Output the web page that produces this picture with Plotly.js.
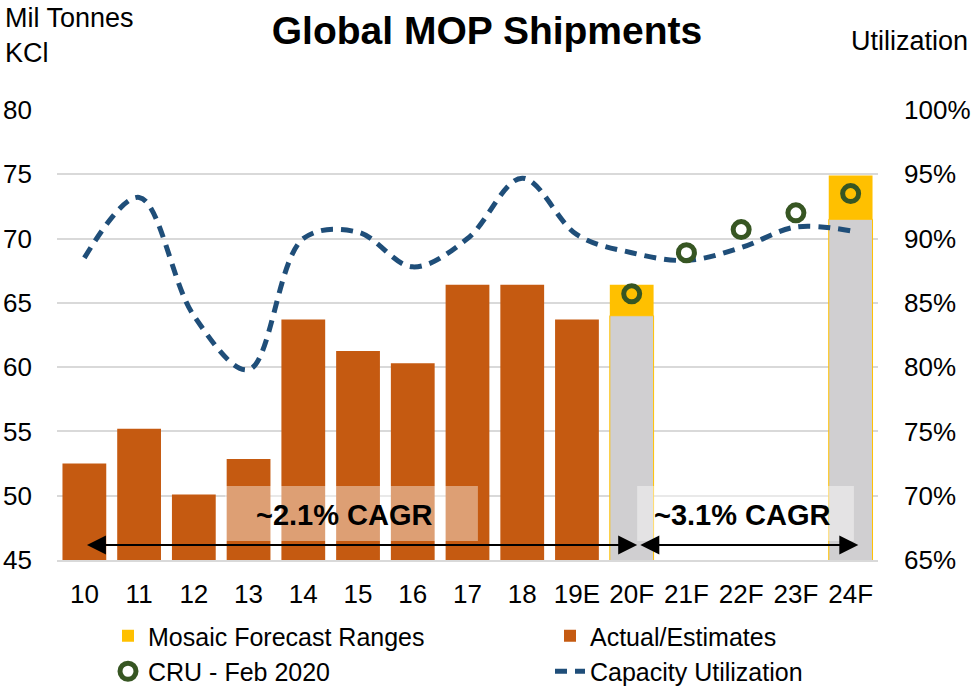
<!DOCTYPE html>
<html>
<head>
<meta charset="utf-8">
<script src="https://cdn.plot.ly/plotly-3.0.1.min.js"></script>
<style>html,body{margin:0;padding:0;background:#fff}#chart{width:974px;height:691px}</style>
</head>
<body>
<div id="chart"></div>
<script>
// ---- data ----
const categories = ['10','11','12','13','14','15','16','17','18','19E','20F','21F','22F','23F','24F'];
const actualCats = ['10','11','12','13','14','15','16','17','18','19E'];
const actualValues = [52.5, 55.2, 50.1, 52.85, 63.7, 61.25, 60.3, 66.4, 66.4, 63.7];
const forecastCats = ['20F','24F'];
const forecastLow = [64.0, 71.5];
const forecastHigh = [66.4, 74.9];
const cruCats = ['20F','21F','22F','23F','24F'];
const cruValues = [65.7, 68.9, 70.7, 72.0, 73.5];
const utilization = [88.5, 93.2, 84.0, 79.8, 90.0, 90.5, 87.8, 90.0, 94.7, 90.3, 88.9, 88.3, 89.3, 90.9, 90.6];
const leftTicks = [45, 50, 55, 60, 65, 70, 75, 80];
const rightTicks = [65, 70, 75, 80, 85, 90, 95, 100];
const cagrLabels = ['~2.1% CAGR', '~3.1% CAGR'];

const FONT = 'Liberation Sans, Arial, sans-serif';
const ORANGE = '#c55a11', YELLOW = '#ffc000', GRAY = '#d0cfd1', GREEN = '#375623', BLUE = '#1f4e79';

const traces = [
  { type:'bar', x:forecastCats, y:forecastLow, marker:{color:GRAY, line:{color:YELLOW, width:1}},
    showlegend:false, hoverinfo:'skip', name:'Range low' },
  { type:'bar', x:forecastCats, base:forecastLow, y:forecastHigh.map((h,i)=>h-forecastLow[i]),
    marker:{color:YELLOW, line:{width:0}}, name:'Mosaic Forecast Ranges', legend:'legend', legendrank:1 },
  { type:'bar', x:actualCats, y:actualValues, marker:{color:ORANGE, line:{width:0}},
    name:'Actual/Estimates', legend:'legend2', legendrank:1 },
  { type:'scatter', mode:'lines', x:categories, y:utilization, yaxis:'y2',
    line:{color:BLUE, width:5, dash:'12px,8px', shape:'spline', smoothing:1},
    name:'Capacity Utilization', legend:'legend2', legendrank:2 },
  { type:'scatter', mode:'markers', x:cruCats, y:cruValues, yaxis:'y3',
    marker:{symbol:'circle-open', size:16, color:GREEN, line:{color:GREEN, width:5}},
    name:'CRU - Feb 2020', legend:'legend', legendrank:2 }
];

const arrowY = 46.17;
const legendY = -(613-560)/450;
const layout = {
  width:974, height:691,
  margin:{l:57, r:96, t:110, b:131, autoexpand:false},
  paper_bgcolor:'#fff', plot_bgcolor:'#fff',
  font:{family:FONT, size:26, color:'#000'},
  title:{text:'<b>Global MOP Shipments</b>', font:{family:FONT, size:39, color:'#000'},
         x:0.5, xref:'container', y:1-30/691, yref:'container', yanchor:'middle'},
  barmode:'overlay', bargap:0.2,
  xaxis:{type:'category', categoryorder:'array', categoryarray:categories, range:[-0.5,14.5],
         showgrid:false, showline:true, linecolor:'#d9d9d9', linewidth:2, ticks:'',
         ticklabelstandoff:10, tickfont:{size:26}, fixedrange:true},
  yaxis:{range:[45,80], tickvals:leftTicks, showgrid:true, gridcolor:'#d9d9d9', gridwidth:2,
         zeroline:false, ticks:'', ticklabelstandoff:24, tickfont:{size:26}},
  yaxis2:{range:[65,100], tickvals:rightTicks, ticktext:rightTicks.map(v=>v+'%'), overlaying:'y', side:'right',
          showgrid:false, zeroline:false, ticks:'', ticklabelstandoff:25, tickfont:{size:26}},
  yaxis3:{range:[45,80], overlaying:'y', visible:false},
  legend:{orientation:'v', x:(108-57)/821, xanchor:'left', y:legendY, yanchor:'top',
          traceorder:'normal', font:{size:25}, bgcolor:'rgba(0,0,0,0)'},
  legend2:{orientation:'v', x:(550-57)/821, xanchor:'left', y:legendY, yanchor:'top',
          traceorder:'normal', font:{size:25}, bgcolor:'rgba(0,0,0,0)'},
  shapes:[
    {type:'rect', xref:'x', yref:'y', x0:2.57, x1:7.19, y0:46.48, y1:50.76,
     fillcolor:'rgba(255,255,255,0.42)', line:{width:0}, layer:'above'},
    {type:'rect', xref:'x', yref:'y', x0:10.1, x1:14.06, y0:46.48, y1:50.76,
     fillcolor:'rgba(255,255,255,0.42)', line:{width:0}, layer:'above'}
  ],
  annotations:[
    {text:'Mil Tonnes<br>KCl', xref:'paper', yref:'paper', x:(3-57)/821, y:1+(110-1)/450,
     xanchor:'left', yanchor:'top', align:'left', showarrow:false, font:{size:27}},
    {text:'Utilization', xref:'paper', yref:'paper', x:(970-57)/821, y:1+(110-41)/450,
     xanchor:'right', yanchor:'middle', showarrow:false, font:{size:27}},
    {text:'<b>'+cagrLabels[0]+'</b>', xref:'x', yref:'y', x:4.76, y:48.5, showarrow:false, font:{size:29}},
    {text:'<b>'+cagrLabels[1]+'</b>', xref:'x', yref:'y', x:12.03, y:48.5, showarrow:false, font:{size:29}},
    {text:'', xref:'x', yref:'y', axref:'x', ayref:'y', x:10.1, y:arrowY, ax:0.02, ay:arrowY,
     showarrow:true, arrowhead:2, arrowside:'end+start', arrowsize:1.9, arrowwidth:2, arrowcolor:'#000'},
    {text:'', xref:'x', yref:'y', axref:'x', ayref:'y', x:14.14, y:arrowY, ax:10.13, ay:arrowY,
     showarrow:true, arrowhead:2, arrowside:'end+start', arrowsize:1.9, arrowwidth:2, arrowcolor:'#000'}
  ]
};

Plotly.newPlot('chart', traces, layout, {displayModeBar:false, staticPlot:true});
</script>
</body>
</html>
